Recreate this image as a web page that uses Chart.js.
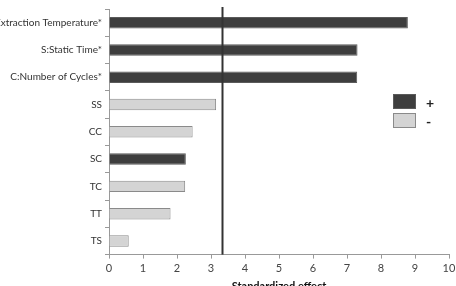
<!DOCTYPE html>
<html>
<head>
<meta charset="utf-8">
<script src="https://cdn.jsdelivr.net/npm/chart.js@4/dist/chart.umd.min.js"></script>
<style>
  html, body { margin:0; padding:0; background:#fff; overflow:hidden; }
  #wrap { position:relative; width:456px; height:293px; }
</style>
</head>
<body>
<div id="wrap"><canvas id="pareto"></canvas></div>
<script>
'use strict';

// ── data (Pareto chart of standardized effects)
const categories = ['Extraction Temperature*', 'S:Static Time*', 'C:Number of Cycles*', 'SS', 'CC', 'SC', 'TC', 'TT', 'TS'];
const effects    = [8.79, 7.31, 7.30, 3.15, 2.46, 2.26, 2.24, 1.81, 0.58];
const signs      = ['+', '+', '+', '-', '-', '+', '-', '-', '-'];
const xTicks     = [0, 1, 2, 3, 4, 5, 6, 7, 8, 9, 10];
const threshold  = 3.32;
const legendKeys = ['+', '-'];

const FONT = 'Lato, "Open Sans", sans-serif';
const COL = {
  '+': { fill:'#3e3e3e', border:'#5a5a5a' },
  '-': { fill:'#d4d4d4', border:'#8a8a8a' },
};

// garis batas signifikansi + legend kotak
const refLine = {
  id: 'refLine',
  afterDatasetsDraw(chart) {
    const { ctx, chartArea, scales } = chart;
    const x = Math.round(scales.x.getPixelForValue(threshold)) + 0.5;
    ctx.save();
    ctx.strokeStyle = '#333';
    ctx.lineWidth = 2;
    ctx.beginPath();
    ctx.moveTo(x, chartArea.top - 2);
    ctx.lineTo(x, chartArea.bottom);
    ctx.stroke();

    // legend
    const lx = 393, ly = 94, w = 23, h = 15;
    legendKeys.forEach((k, i) => {
      const y = ly + i * (h + 4);
      ctx.fillStyle = COL[k].fill;
      ctx.fillRect(lx, y, w, h);
      ctx.strokeStyle = COL[k].border;
      ctx.lineWidth = 1;
      ctx.strokeRect(lx + 0.5, y + 0.5, w - 1, h - 1);
      ctx.fillStyle = '#222';
      ctx.font = 'bold 14px ' + FONT;
      ctx.textBaseline = 'middle';
      ctx.textAlign = 'left';
      ctx.fillText(k, lx + w + 10, y + h / 2 + 2);
    });
    ctx.restore();
  }
};

new Chart(document.getElementById('pareto'), {
  type: 'bar',
  data: {
    labels: categories,
    datasets: [{
      data: effects,
      backgroundColor: signs.map(s => COL[s].fill),
      borderColor: signs.map(s => COL[s].border),
      borderWidth: 1,
      barPercentage: 0.42,
      categoryPercentage: 1,
    }]
  },
  options: {
    indexAxis: 'y',
    responsive: true,
    maintainAspectRatio: false,
    animation: false,
    layout: { padding: { top: 2, right: 0, left: 0, bottom: 0 } },
    plugins: { legend: { display: false }, tooltip: { enabled: false } },
    scales: {
      x: {
        min: 0, max: 10,
        afterBuildTicks: s => { s.ticks = xTicks.map(v => ({ value: v })); },
        afterFit: s => { s.paddingRight = 7; },
        grid: { drawOnChartArea: false, drawTicks: true, tickLength: 4, color: '#999' },
        border: { display: true, color: '#999', width: 1 },
        ticks: { color: '#444', font: { family: FONT, size: 11 }, padding: 3, maxRotation: 0 },
        title: { display: true, text: 'Standardized effect', color: '#111', font: { family: FONT, size: 11, weight: 'bold' }, padding: { top: 2, bottom: 0 } },
      },
      y: {
        afterFit: s => { s.width = 109; },
        grid: { drawOnChartArea: false, drawTicks: true, tickLength: 4, color: '#999', offset: true },
        border: { display: true, color: '#999', width: 1 },
        ticks: { color: '#333', font: { family: FONT, size: 10 }, padding: 3 },
      }
    }
  },
  plugins: [refLine]
});
</script>
</body>
</html>
